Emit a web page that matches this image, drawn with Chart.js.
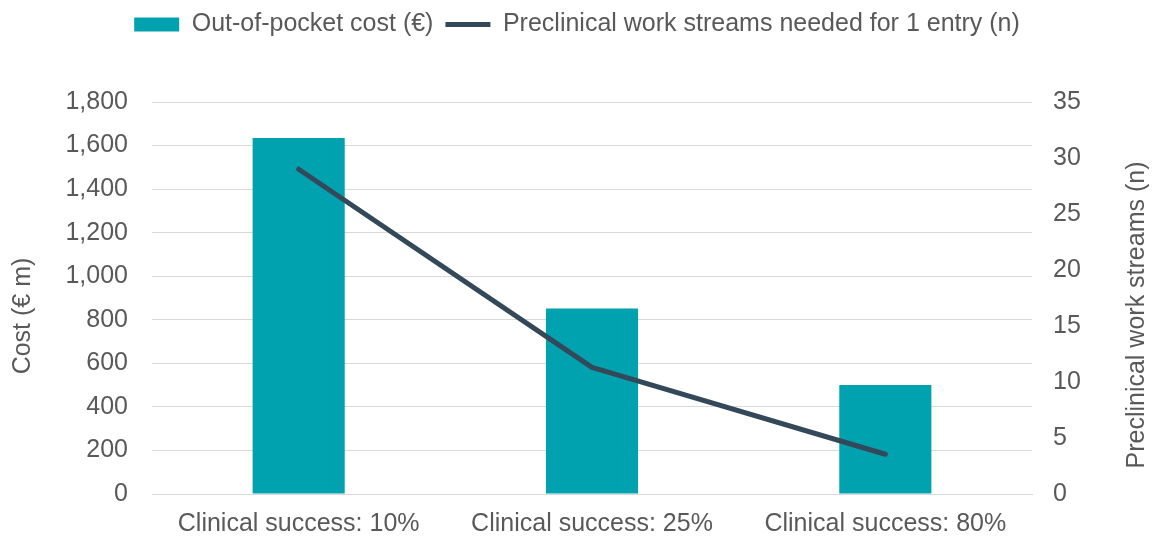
<!DOCTYPE html>
<html>
<head>
<meta charset="utf-8">
<script src="https://cdn.jsdelivr.net/npm/chart.js@4"></script>
<style>
    html, body { margin: 0; padding: 0; background: #ffffff; }
    #chart { display: block; }
</style>
</head>
<body>
<canvas id="chart" width="1154" height="539"></canvas>
<script>
// Данные
const categories = ['Clinical success: 10%', 'Clinical success: 25%', 'Clinical success: 80%'];
const costValues = [1635, 852, 500];
const workStreams = [29.0, 11.3, 3.55];

const costLabel = 'Out-of-pocket cost (€)';
const streamsLabel = 'Preclinical work streams needed for 1 entry (n)';
const leftTitle = 'Cost (€ m)';
const rightTitle = 'Preclinical work streams (n)';

// Цвета
const barColor = '#00A2AF';
const lineColor = '#33495A';
const textColor = '#595959';
const gridColor = '#D9D9D9';
const fontFamily = '"Liberation Sans", Arial, sans-serif';

Chart.defaults.font.family = fontFamily;
Chart.defaults.font.size = 25;
Chart.defaults.color = textColor;

// Подписи осей рисуем сами, чтобы поставить их как в оригинале
const axisTitles = {
    id: 'axisTitles',
    afterDraw(chart) {
        const c = chart.ctx;
        c.save();
        c.fillStyle = textColor;
        c.font = '25px ' + fontFamily;
        c.textAlign = 'center';
        c.textBaseline = 'middle';

        c.save();
        c.translate(23, 316);
        c.rotate(-Math.PI / 2);
        c.fillText(leftTitle, 0, 0);
        c.restore();

        c.save();
        c.translate(1137, 315);
        c.rotate(-Math.PI / 2);
        c.fillText(rightTitle, 0, 0);
        c.restore();

        c.restore();
    }
};

// Высота легенды задаёт верх области графика
const legendHeight = {
    id: 'legendHeight',
    beforeInit(chart) {
        const fit = chart.legend.fit;
        chart.legend.fit = function() {
            fit.bind(chart.legend)();
            this.height = 102;
        };
    }
};

const ctx = document.getElementById('chart').getContext('2d');

new Chart(ctx, {
    type: 'bar',
    data: {
        labels: categories,
        datasets: [
            {
                type: 'line',
                label: streamsLabel,
                data: workStreams,
                yAxisID: 'y1',
                borderColor: lineColor,
                backgroundColor: lineColor,
                borderWidth: 5,
                pointRadius: 0,
                pointStyle: 'line',
                borderCapStyle: 'round',
                borderJoinStyle: 'round',
                tension: 0,
                order: 0
            },
            {
                type: 'bar',
                label: costLabel,
                data: costValues,
                yAxisID: 'y',
                backgroundColor: barColor,
                borderWidth: 0,
                pointStyle: 'rect',
                categoryPercentage: 1,
                barPercentage: 0.314,
                order: 1
            }
        ]
    },
    options: {
        responsive: false,
        animation: false,
        layout: {
            padding: { top: 0, bottom: 0, left: 0, right: 0 }
        },
        plugins: {
            legend: {
                position: 'top',
                reverse: true,
                labels: {
                    usePointStyle: true,
                    pointStyleWidth: 45,
                    boxHeight: 14,
                    padding: 12,
                    color: textColor,
                    font: { size: 25 }
                }
            },
            tooltip: { enabled: false }
        },
        scales: {
            x: {
                grid: { display: false, drawTicks: false },
                border: { color: gridColor, width: 1 },
                ticks: { color: textColor, font: { size: 25 }, padding: 15, maxRotation: 0 },
                afterFit: function(scale) { scale.height = 45; }
            },
            y: {
                position: 'left',
                min: 0,
                max: 1800,
                ticks: { stepSize: 200, color: textColor, font: { size: 25 }, padding: 24 },
                grid: { color: gridColor, lineWidth: 1, drawTicks: false },
                border: { display: false },
                afterFit: function(scale) { scale.width = 152; }
            },
            y1: {
                position: 'right',
                min: 0,
                max: 35,
                ticks: { stepSize: 5, color: textColor, font: { size: 25 }, padding: 21 },
                grid: { display: false, drawTicks: false },
                border: { display: false },
                afterFit: function(scale) { scale.width = 122; }
            }
        }
    },
    plugins: [legendHeight, axisTitles]
});
</script>
</body>
</html>
